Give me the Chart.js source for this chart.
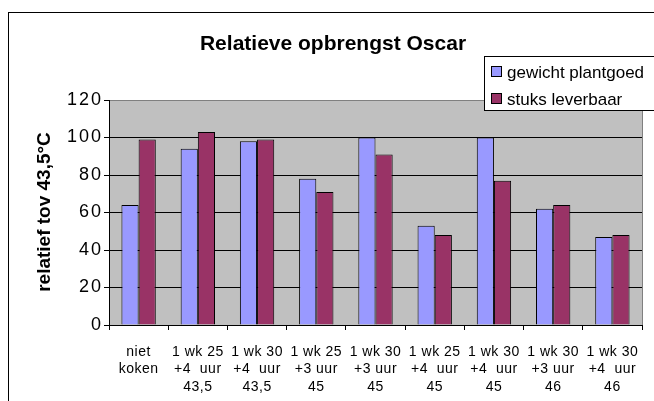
<!DOCTYPE html>
<html>
<head>
<meta charset="utf-8">
<script src="https://cdn.jsdelivr.net/npm/chart.js@4"></script>
<style>
  html, body { margin: 0; padding: 0; background: #fff; }
  #wrap { width: 654px; height: 401px; position: relative; }
</style>
</head>
<body>
<div id="wrap"><canvas id="chart" width="654" height="401"></canvas></div>
<script>
// Data
const categories = [
    ['niet', 'koken'],
    ['1 wk 25', '+4  uur', '43,5'],
    ['1 wk 30', '+4  uur', '43,5'],
    ['1 wk 25', '+3 uur', '45'],
    ['1 wk 30', '+3 uur', '45'],
    ['1 wk 25', '+4  uur', '45'],
    ['1 wk 30', '+4  uur', '45'],
    ['1 wk 30', '+3 uur', '46'],
    ['1 wk 30', '+4  uur', '46']
];
const gewichtPlantgoed = [64, 94, 98, 78, 100, 53, 100, 62, 47];
const stuksLeverbaar = [99, 103, 99, 71, 91, 48, 77, 64, 48];
const seriesNames = ['gewicht plantgoed', 'stuks leverbaar'];
const yTicks = [0, 20, 40, 60, 80, 100, 120];

const chartTitle = 'Relatieve opbrengst Oscar';
const yTitle = 'relatief tov 43,5°C';

const kleurBlauw = '#9999FF';
const kleurRood = '#993366';
const FONT = "'Liberation Sans', Arial, sans-serif";

// achtergrond, rand, titels en legenda
const excelLook = {
    id: 'excelLook',
    beforeDraw(chart) {
        const ctx = chart.ctx;
        const a = chart.chartArea;
        ctx.save();
        ctx.fillStyle = '#fff';
        ctx.fillRect(0, 0, chart.width, chart.height);
        ctx.strokeStyle = '#000';
        ctx.lineWidth = 1;
        ctx.strokeRect(8.5, 12.5, 700, 450);
        ctx.fillStyle = '#C0C0C0';
        ctx.fillRect(a.left, a.top, a.right - a.left, a.bottom - a.top);
        ctx.strokeStyle = '#808080';
        ctx.beginPath();
        ctx.moveTo(a.left, a.top + 0.5);
        ctx.lineTo(a.right + 0.5, a.top + 0.5);
        ctx.lineTo(a.right + 0.5, a.bottom);
        ctx.stroke();
        ctx.restore();

        // letter spacing voor de as-labels
        const sy = chart.scales.y, sx = chart.scales.x;
        if (!sy._wrapped) {
            const oy = sy.drawLabels;
            sy.drawLabels = function (area) {
                ctx.save(); ctx.letterSpacing = '2px'; oy.call(this, area); ctx.restore();
            };
            sy._wrapped = true;
        }
        if (!sx._wrapped) {
            const ox = sx.drawLabels;
            sx.drawLabels = function (area) {
                ctx.save(); ctx.letterSpacing = '0.5px'; ox.call(this, area); ctx.restore();
            };
            sx._wrapped = true;
        }
    },
    afterDraw(chart) {
        const ctx = chart.ctx;
        ctx.save();
        ctx.fillStyle = '#000';
        ctx.textBaseline = 'middle';
        ctx.textAlign = 'center';
        ctx.font = 'bold 21px ' + FONT;
        ctx.fillText(chartTitle, 333, 44);

        ctx.save();
        ctx.translate(45, 212);
        ctx.rotate(-Math.PI / 2);
        ctx.font = 'bold 19px ' + FONT;
        ctx.fillText(yTitle, 0, 0);
        ctx.restore();

        // legenda
        ctx.fillStyle = '#fff';
        ctx.fillRect(484.5, 56.5, 170, 54);
        ctx.strokeStyle = '#000';
        ctx.lineWidth = 1;
        ctx.strokeRect(484.5, 56.5, 170, 54);
        ctx.font = '17px ' + FONT;
        ctx.textAlign = 'left';
        chart.data.datasets.forEach((ds, i) => {
            const yy = 72 + i * 27;
            ctx.fillStyle = ds.backgroundColor;
            ctx.fillRect(491.5, yy - 5.5, 10, 10);
            ctx.strokeStyle = '#000';
            ctx.strokeRect(491.5, yy - 5.5, 10, 10);
            ctx.fillStyle = '#000';
            ctx.fillText(ds.label, 507, yy + 1);
        });
        ctx.restore();
    }
};

new Chart(document.getElementById('chart'), {
    type: 'bar',
    data: {
        labels: categories,
        datasets: [
            {
                label: seriesNames[0],
                data: gewichtPlantgoed,
                backgroundColor: kleurBlauw,
                borderColor: '#000',
                borderWidth: 1,
                categoryPercentage: 0.58,
                barPercentage: 1.0
            },
            {
                label: seriesNames[1],
                data: stuksLeverbaar,
                backgroundColor: kleurRood,
                borderColor: '#000',
                borderWidth: 1,
                categoryPercentage: 0.58,
                barPercentage: 1.0
            }
        ]
    },
    options: {
        responsive: false,
        animation: false,
        layout: { padding: { left: 0, right: 12, top: 100, bottom: 0 } },
        plugins: {
            legend: { display: false },
            title: { display: false },
            tooltip: { enabled: false }
        },
        scales: {
            y: {
                min: 0,
                max: 120,
                afterFit(scale) { scale.width = 109; },
                afterBuildTicks(scale) { scale.ticks = yTicks.map(v => ({ value: v })); },
                border: { color: '#000', width: 1 },
                grid: {
                    color: ctx => ctx.tick && ctx.tick.value === 120 ? '#808080' : '#000',
                    tickColor: '#000',
                    tickLength: 5
                },
                ticks: {
                    color: '#000',
                    padding: 1,
                    font: { family: FONT, size: 18 }
                }
            },
            x: {
                afterFit(scale) { scale.height = 76; },
                border: { color: '#000', width: 1 },
                grid: {
                    offset: true,
                    drawOnChartArea: false,
                    tickColor: '#000',
                    tickLength: 5
                },
                ticks: {
                    color: '#000',
                    padding: 13,
                    maxRotation: 0,
                    autoSkip: false,
                    font: { family: FONT, size: 14, lineHeight: 1.25 }
                }
            }
        }
    },
    plugins: [excelLook]
});
</script>
</body>
</html>
